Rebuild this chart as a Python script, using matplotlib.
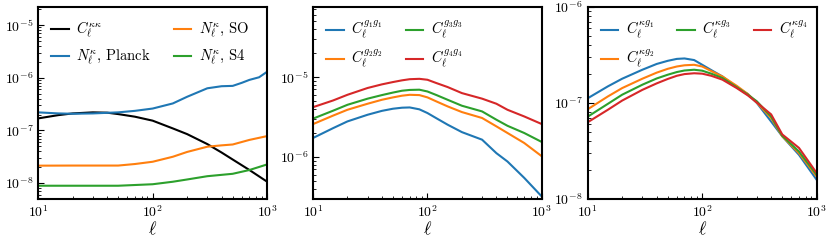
#!/usr/bin/env python3
"""Lensing / clustering spectra and noise curves, three panels."""

import matplotlib

matplotlib.use("Agg")
import matplotlib.pyplot as plt

plt.rcParams.update(
    {
        "font.family": "serif",
        "font.serif": ["cmr10"],
        "mathtext.fontset": "cm",
        "axes.formatter.use_mathtext": True,
        "font.size": 10,
        "axes.linewidth": 1.5,
        "lines.linewidth": 1.5,
        "xtick.direction": "in",
        "ytick.direction": "in",
        "xtick.major.size": 4,
        "ytick.major.size": 4,
        "xtick.minor.size": 2,
        "ytick.minor.size": 2,
        "legend.fontsize": 10.5,
        "legend.handlelength": 1.2,
        "legend.handletextpad": 0.5,
        "legend.columnspacing": 1.6,
        "legend.frameon": False,
    }
)

# panel 1: convergence spectrum and reconstruction noise
ell_kk = [10, 15, 20, 30, 40, 50, 70, 100, 150, 200, 300, 400, 500, 700, 1000]
cl_kk = [1.69e-7, 1.95e-7, 2.1e-7, 2.2e-7, 2.17e-7, 2.04e-7, 1.82e-7, 1.53e-7,
         1.09e-7, 8.5e-8, 5.5e-8, 3.8e-8, 2.8e-8, 1.77e-8, 1.06e-8]

ell_planck = [10, 15, 20, 30, 50, 70, 100, 150, 200, 300, 400, 500, 600, 700, 850, 1000]
nl_planck = [2.2e-7, 2.1e-7, 2.07e-7, 2.1e-7, 2.2e-7, 2.35e-7, 2.6e-7, 3.25e-7,
             4.35e-7, 6.3e-7, 6.9e-7, 7.0e-7, 8.0e-7, 9.1e-7, 1.02e-6, 1.3e-6]

ell_so = [10, 20, 50, 70, 100, 150, 200, 300, 400, 500, 700, 1000]
nl_so = [2.14e-8, 2.15e-8, 2.15e-8, 2.3e-8, 2.54e-8, 3.16e-8, 3.9e-8, 4.9e-8,
         5.2e-8, 5.4e-8, 6.6e-8, 7.8e-8]

ell_s4 = [10, 50, 100, 150, 200, 300, 500, 700, 1000]
nl_s4 = [8.9e-9, 8.9e-9, 9.5e-9, 1.06e-8, 1.17e-8, 1.35e-8, 1.5e-8, 1.77e-8, 2.26e-8]

# panel 2: galaxy auto spectra
ell_gg = [10, 15, 20, 30, 40, 50, 60, 70, 85, 100, 120, 150, 200, 300, 400, 500, 700, 1000]
cl_g1g1 = [1.73e-6, 2.3e-6, 2.79e-6, 3.38e-6, 3.78e-6, 4.02e-6, 4.14e-6, 4.17e-6,
           3.95e-6, 3.55e-6, 3.05e-6, 2.54e-6, 2.05e-6, 1.65e-6, 1.12e-6, 8.8e-7,
           5.5e-7, 3.2e-7]
cl_g2g2 = [2.58e-6, 3.3e-6, 3.9e-6, 4.64e-6, 5.2e-6, 5.57e-6, 5.85e-6, 6.0e-6,
           5.95e-6, 5.57e-6, 4.95e-6, 4.3e-6, 3.65e-6, 3.08e-6, 2.42e-6, 2.0e-6,
           1.5e-6, 1.02e-6]
cl_g3g3 = [3.02e-6, 3.8e-6, 4.5e-6, 5.37e-6, 5.95e-6, 6.4e-6, 6.75e-6, 6.9e-6,
           6.95e-6, 6.6e-6, 5.95e-6, 5.2e-6, 4.38e-6, 3.72e-6, 2.93e-6, 2.46e-6,
           2.0e-6, 1.54e-6]
cl_g4g4 = [4.2e-6, 5.1e-6, 6.0e-6, 7.3e-6, 8.1e-6, 8.66e-6, 9.1e-6, 9.4e-6,
           9.5e-6, 9.25e-6, 8.4e-6, 7.5e-6, 6.3e-6, 5.37e-6, 4.64e-6, 3.9e-6,
           3.22e-6, 2.58e-6]

# panel 3: convergence x galaxy cross spectra
ell_kg = [10, 15, 20, 30, 40, 50, 60, 70, 85, 100, 120, 150, 200, 250, 300, 400, 500, 700, 1000]
cl_kg1 = [1.12e-7, 1.49e-7, 1.79e-7, 2.22e-7, 2.55e-7, 2.75e-7, 2.88e-7, 2.91e-7,
          2.8e-7, 2.5e-7, 2.2e-7, 1.89e-7, 1.46e-7, 1.24e-7, 1.0e-7, 6.4e-8,
          4.5e-8, 2.88e-8, 1.58e-8]
cl_kg2 = [8.6e-8, 1.17e-7, 1.43e-7, 1.79e-7, 2.07e-7, 2.27e-7, 2.4e-7, 2.47e-7,
          2.5e-7, 2.4e-7, 2.15e-7, 1.89e-7, 1.51e-7, 1.24e-7, 1.01e-7, 6.95e-8,
          4.5e-8, 3.0e-8, 1.71e-8]
cl_kg3 = [7.2e-8, 9.8e-8, 1.22e-7, 1.55e-7, 1.8e-7, 1.97e-7, 2.1e-7, 2.18e-7,
          2.22e-7, 2.17e-7, 2.02e-7, 1.82e-7, 1.46e-7, 1.22e-7, 1.04e-7, 7.2e-8,
          4.55e-8, 3.12e-8, 1.78e-8]
cl_kg4 = [6.3e-8, 8.5e-8, 1.06e-7, 1.37e-7, 1.6e-7, 1.78e-7, 1.92e-7, 2.0e-7,
          2.04e-7, 2.02e-7, 1.92e-7, 1.75e-7, 1.43e-7, 1.2e-7, 1.01e-7, 7.6e-8,
          4.7e-8, 3.4e-8, 1.86e-8]


def style(ax):
    ax.set_xscale("log")
    ax.set_yscale("log")
    ax.set_xlim(10, 1000)
    ax.set_xlabel(r"$\ell$", fontsize=13, labelpad=0)
    ax.tick_params(which="both", top=False, right=False)


fig, axes = plt.subplots(1, 3, figsize=(8.3, 2.42), dpi=100)
fig.subplots_adjust(left=0.046, right=0.984, bottom=0.178, top=0.971, wspace=0.2)

ax = axes[0]
ax.plot(ell_kk, cl_kk, color="k", label=r"$C_\ell^{\kappa\kappa}$")
ax.plot(ell_planck, nl_planck, color="C0", label=r"$N_\ell^\kappa$, Planck")
ax.plot(ell_so, nl_so, color="C1", label=r"$N_\ell^\kappa$, SO")
ax.plot(ell_s4, nl_s4, color="C2", label=r"$N_\ell^\kappa$, S4")
style(ax)
ax.set_ylim(5e-9, 2.2e-5)
ax.legend(ncol=2, loc="upper left")

ax = axes[1]
ax.plot(ell_gg, cl_g1g1, color="C0", label=r"$C_\ell^{g_1g_1}$")
ax.plot(ell_gg, cl_g2g2, color="C1", label=r"$C_\ell^{g_2g_2}$")
ax.plot(ell_gg, cl_g3g3, color="C2", label=r"$C_\ell^{g_3g_3}$")
ax.plot(ell_gg, cl_g4g4, color="C3", label=r"$C_\ell^{g_4g_4}$")
style(ax)
ax.set_ylim(3e-7, 7.5e-5)
ax.legend(ncol=2, loc="upper left")

ax = axes[2]
ax.plot(ell_kg, cl_kg1, color="C0", label=r"$C_\ell^{\kappa g_1}$")
ax.plot(ell_kg, cl_kg2, color="C1", label=r"$C_\ell^{\kappa g_2}$")
ax.plot(ell_kg, cl_kg3, color="C2", label=r"$C_\ell^{\kappa g_3}$")
ax.plot(ell_kg, cl_kg4, color="C3", label=r"$C_\ell^{\kappa g_4}$")
style(ax)
ax.set_ylim(1e-8, 1e-6)
ax.legend(ncol=3, loc="upper left")

fig.savefig("out.png", dpi=100)
